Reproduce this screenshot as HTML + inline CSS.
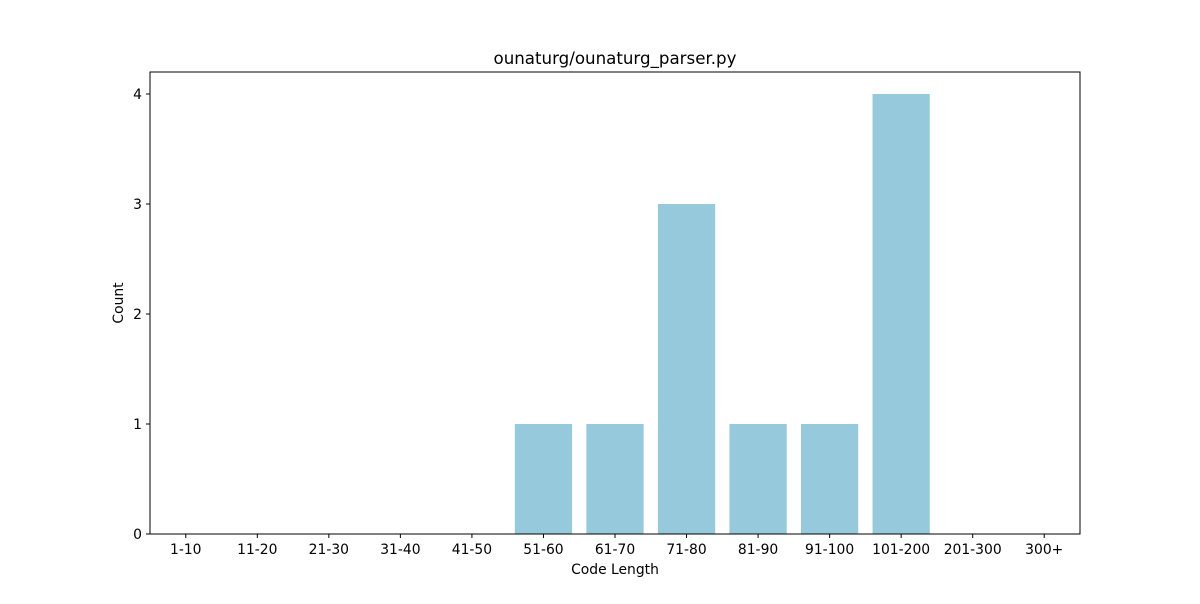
<!DOCTYPE html>
<html><head><meta charset="utf-8"><style>
body{margin:0;background:#fff;font-family:"DejaVu Sans","Liberation Sans",sans-serif;}
svg text{font-family:"DejaVu Sans","Liberation Sans",sans-serif;fill:#000;}
</style></head><body>
<svg id="chart" width="1200" height="600" xmlns="http://www.w3.org/2000/svg">
<rect width="1200" height="600" fill="#fff"/>
<text x="615" y="64" font-size="16.67" text-anchor="middle">ounaturg/ounaturg_parser.py</text>
<g id="bars"></g>
<rect x="150" y="72" width="930" height="462" fill="none" stroke="#000" stroke-width="1"/>
<g id="xticks"></g><g id="yticks"></g>
<text x="615" y="574" font-size="13.89" text-anchor="middle">Code Length</text>
<text transform="translate(123,303) rotate(-90)" font-size="13.89" text-anchor="middle">Count</text>
</svg>
<script>
const categories=["1-10","11-20","21-30","31-40","41-50","51-60","61-70","71-80","81-90","91-100","101-200","201-300","300+"];
const counts=[0,0,0,0,0,1,1,3,1,1,4,0,0];
const yTickValues=[0,1,2,3,4];
const L=150,R=1080,T=72,B=534,yMax=4.2;
const ns="http://www.w3.org/2000/svg";
const xs=i=>L+(i+0.5)*(R-L)/categories.length;
const ys=v=>B-v*(B-T)/yMax;
const bw=0.8*(R-L)/categories.length;
const bars=document.getElementById('bars'),xt=document.getElementById('xticks'),yt=document.getElementById('yticks');
categories.forEach((c,i)=>{
  if(counts[i]>0){
    const r=document.createElementNS(ns,'rect');
    r.setAttribute('x',xs(i)-bw/2);r.setAttribute('y',ys(counts[i]));
    r.setAttribute('width',bw);r.setAttribute('height',B-ys(counts[i]));
    r.setAttribute('fill','#96c9dc');
    
    
    bars.appendChild(r);
  }
  const l=document.createElementNS(ns,'line');
  l.setAttribute('x1',xs(i));l.setAttribute('x2',xs(i));l.setAttribute('y1',B);l.setAttribute('y2',B+4);l.setAttribute('stroke','#000');
  
  
  xt.appendChild(l);
  const t=document.createElementNS(ns,'text');
  t.setAttribute('x',xs(i));t.setAttribute('y',B+20);t.setAttribute('font-size','13.89');t.setAttribute('text-anchor','middle');
  t.textContent=c;
  
  
  xt.appendChild(t);
});
yTickValues.forEach(v=>{
  const l=document.createElementNS(ns,'line');
  l.setAttribute('x1',L-4);l.setAttribute('x2',L);l.setAttribute('y1',ys(v));l.setAttribute('y2',ys(v));l.setAttribute('stroke','#000');
  
  
  yt.appendChild(l);
  const t=document.createElementNS(ns,'text');
  t.setAttribute('x',L-8);t.setAttribute('y',ys(v)+5);t.setAttribute('font-size','13.89');t.setAttribute('text-anchor','end');
  t.textContent=v;
  
  
  yt.appendChild(t);
});
</script>
</body></html>
